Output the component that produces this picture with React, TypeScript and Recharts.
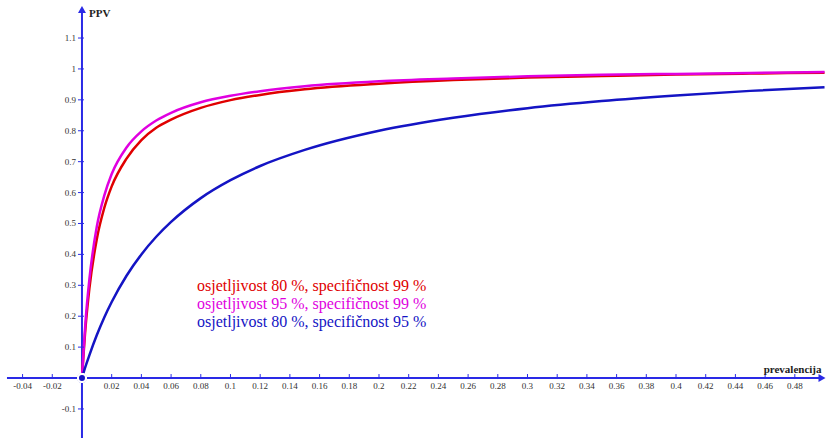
import { Legend, Line, LineChart, ReferenceDot, ReferenceLine, XAxis, YAxis } from 'recharts'

// prevalence (x) and PPV values
const prevalence = [0, 0.0025, 0.005, 0.01, 0.015, 0.02, 0.03, 0.04, 0.05, 0.06, 0.08, 0.1, 0.12, 0.15, 0.2, 0.25, 0.3, 0.35, 0.4, 0.45, 0.5]
const ppvSens80Spec99 = [0, 0.17, 0.29, 0.45, 0.55, 0.62, 0.71, 0.77, 0.81, 0.836, 0.874, 0.899, 0.916, 0.934, 0.952, 0.964, 0.972, 0.977, 0.982, 0.985, 0.988]
const ppvSens95Spec99 = [0, 0.19, 0.32, 0.49, 0.59, 0.66, 0.746, 0.798, 0.833, 0.858, 0.892, 0.913, 0.928, 0.944, 0.96, 0.969, 0.976, 0.981, 0.984, 0.987, 0.99]
const ppvSens80Spec95 = [0, 0.039, 0.074, 0.139, 0.196, 0.246, 0.331, 0.4, 0.457, 0.505, 0.582, 0.64, 0.686, 0.738, 0.8, 0.842, 0.873, 0.896, 0.914, 0.929, 0.941]

const seriesNames = [
  'osjetljivost 80 %, specifičnost 99 %',
  'osjetljivost 95 %, specifičnost 99 %',
  'osjetljivost 80 %, specifičnost 95 %',
]

const xTicks = [-0.04, -0.02, 0.02, 0.04, 0.06, 0.08, 0.1, 0.12, 0.14, 0.16, 0.18, 0.2, 0.22, 0.24, 0.26, 0.28, 0.3, 0.32, 0.34, 0.36, 0.38, 0.4, 0.42, 0.44, 0.46, 0.48]
const yTicks = [-0.1, 0.1, 0.2, 0.3, 0.4, 0.5, 0.6, 0.7, 0.8, 0.9, 1, 1.1]

const rows = prevalence.map((p, i) => ({
  p,
  a: ppvSens80Spec99[i],
  b: ppvSens95Spec99[i],
  c: ppvSens80Spec95[i],
}))

const AXIS = '#2a2ae6'
const FONT = '"Liberation Serif", "Times New Roman", serif'

const fmt = (v: number) => String(v)

const XTickMark = ({ cx, cy, label }: any) => (
  <g>
    <line x1={cx} x2={cx} y1={cy - 4} y2={cy + 1} stroke={AXIS} strokeWidth={1} />
    <text x={cx} y={cy + 11} textAnchor="middle" fontSize={9} fontFamily={FONT} fill="#333">
      {label}
    </text>
  </g>
)

const YTickMark = ({ cx, cy, label }: any) => (
  <g>
    <line x1={cx - 4} x2={cx + 2} y1={cy} y2={cy} stroke={AXIS} strokeWidth={1} />
    <text x={cx - 6} y={cy + 3} textAnchor="end" fontSize={9} fontFamily={FONT} fill="#333">
      {label}
    </text>
  </g>
)

const ArrowRight = ({ cx, cy }: any) => (
  <polygon points={`${cx - 6},${cy - 4} ${cx + 1},${cy} ${cx - 6},${cy + 4}`} fill={AXIS} />
)

const ArrowUp = ({ cx, cy }: any) => (
  <polygon points={`${cx - 4},${cy + 6} ${cx},${cy - 1} ${cx + 4},${cy + 6}`} fill={AXIS} />
)

const LegendContent = ({ payload }: any) => {
  const items = [...(payload || [])].sort(
    (a: any, b: any) => seriesNames.indexOf(a.value) - seriesNames.indexOf(b.value)
  )
  return (
    <div style={{ fontFamily: FONT, fontSize: 16, lineHeight: '18px' }}>
      {items.map((e: any) => (
        <div key={e.value} style={{ color: e.color, whiteSpace: 'nowrap', fontFamily: FONT }}>
          {e.value}
        </div>
      ))}
    </div>
  )
}

export default function App() {
  return (
    <div style={{ position: 'absolute', left: 0, top: 0, background: '#fff' }}>
      <LineChart width={826} height={438} data={rows} margin={{ top: 0, right: 0, bottom: 0, left: 0 }}>
        <XAxis type="number" dataKey="p" domain={[-0.0552, 0.501]} allowDataOverflow hide />
        <YAxis type="number" domain={[-0.194, 1.223]} allowDataOverflow hide />

        <ReferenceLine segment={[{ x: -0.0505, y: 0 }, { x: 0.498, y: 0 }]} stroke={AXIS} strokeWidth={2} ifOverflow="visible" />
        <ReferenceLine segment={[{ x: 0, y: -0.194 }, { x: 0, y: 1.195 }]} stroke={AXIS} strokeWidth={2} ifOverflow="visible" />
        <ReferenceDot x={0.5} y={0} r={0} ifOverflow="visible" shape={(props: any) => <ArrowRight {...props} />} />
        <ReferenceDot x={0} y={1.2} r={0} ifOverflow="visible" shape={(props: any) => <ArrowUp {...props} />} />

        {xTicks.map((t) => (
          <ReferenceDot key={`x${t}`} x={t} y={0} r={0} ifOverflow="visible" shape={(props: any) => <XTickMark {...props} label={fmt(t)} />} />
        ))}
        {yTicks.map((t) => (
          <ReferenceDot key={`y${t}`} x={0} y={t} r={0} ifOverflow="visible" shape={(props: any) => <YTickMark {...props} label={fmt(t)} />} />
        ))}

        <ReferenceDot
          x={0}
          y={1.2}
          r={0}
          ifOverflow="visible"
          shape={(props: any) => (
            <text x={props.cx + 7} y={props.cy + 10} fontSize={11} fontWeight="bold" fontFamily={FONT} fill="#222">
              PPV
            </text>
          )}
        />
        <ReferenceDot
          x={0.5}
          y={0}
          r={0}
          ifOverflow="visible"
          shape={(props: any) => (
            <text x={props.cx - 3} y={props.cy - 5} textAnchor="end" fontSize={11} fontWeight="bold" fontFamily={FONT} fill="#222">
              prevalencija
            </text>
          )}
        />

        <Line type="monotone" dataKey="a" name={seriesNames[0]} stroke="#e00000" strokeWidth={2.5} dot={false} isAnimationActive={false} />
        <Line type="monotone" dataKey="b" name={seriesNames[1]} stroke="#e000e0" strokeWidth={2.5} dot={false} isAnimationActive={false} />
        <Line type="monotone" dataKey="c" name={seriesNames[2]} stroke="#1414c4" strokeWidth={2.5} dot={false} isAnimationActive={false} />

        <ReferenceDot
          x={0}
          y={0}
          r={0}
          ifOverflow="visible"
          shape={(props: any) => <circle cx={props.cx} cy={props.cy} r={4.5} fill="#0c0ce0" stroke="#0c0ce0" strokeWidth={1} />}
        />

        <Legend
          layout="horizontal"
          verticalAlign="middle"
          align="center"
          content={<LegendContent />}
          wrapperStyle={{ left: 197, top: 277, width: 300 }}
        />
      </LineChart>
    </div>
  )
}
